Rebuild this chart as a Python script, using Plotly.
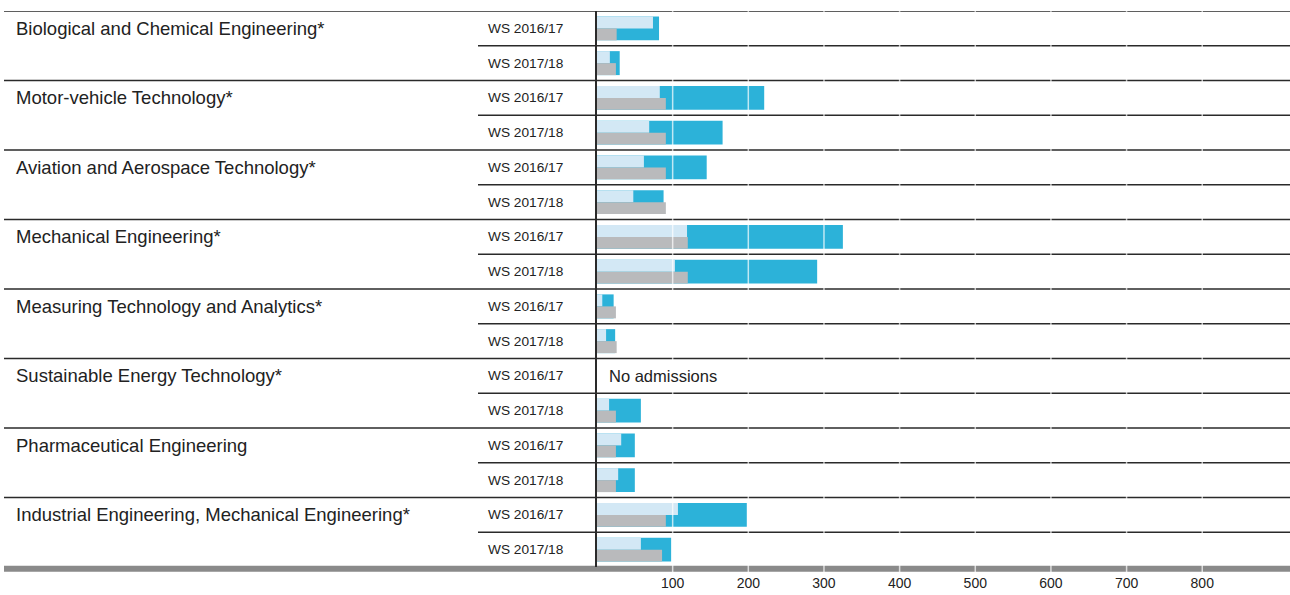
import plotly.graph_objects as go

programs = [
    "Biological and Chemical Engineering*",
    "Motor-vehicle Technology*",
    "Aviation and Aerospace Technology*",
    "Mechanical Engineering*",
    "Measuring Technology and Analytics*",
    "Sustainable Energy Technology*",
    "Pharmaceutical Engineering",
    "Industrial Engineering, Mechanical Engineering*",
]
semesters = ["WS 2016/17", "WS 2017/18"]

applications = [82, 30, 221, 166, 145, 88, 325, 291, 22, 24, None, 58, 50, 50, 198, 98]
admissions = [74, 17, 83, 69, 62, 48, 119, 103, 7, 12, None, 16, 32, 28, 107, 58]
places = [26, 25, 91, 91, 91, 91, 120, 120, 25, 26, None, 25, 25, 25, 91, 86]
no_data_text = "No admissions"
tick_values = [100, 200, 300, 400, 500, 600, 700, 800]

W, H = 1290, 595
L, T, B = 597, 11, 28
PW = W - L


def px(xp):
    return (xp - L) / PW


rows = list(range(len(applications)))
FONT = "Liberation Sans, Arial, sans-serif"
TXT = "#222222"

fig = go.Figure()
fig.add_trace(go.Bar(y=rows, x=applications, orientation="h", width=0.69, offset=-0.345,
                     marker=dict(color="#2cb2d9", line=dict(width=0)), name="Applications",
                     hoverinfo="x"))
fig.add_trace(go.Bar(y=rows, x=admissions, orientation="h", width=0.345, offset=-0.345,
                     marker=dict(color="#d3e8f5", line=dict(width=0)), name="Admissions",
                     hoverinfo="x"))
fig.add_trace(go.Bar(y=rows, x=places, orientation="h", width=0.345, offset=0,
                     marker=dict(color="#b9babc", line=dict(width=0)), name="Places",
                     hoverinfo="x"))

shapes = []
annotations = []
for k, p in enumerate(programs):
    y0 = 2 * k - 0.5
    shapes.append(dict(type="line", xref="paper", yref="y", x0=px(4), x1=1, y0=y0, y1=y0,
                       line=dict(color="#2a2a2a", width=1.5), layer="below"))
    ym = 2 * k + 0.5
    shapes.append(dict(type="line", xref="paper", yref="y", x0=px(478), x1=1, y0=ym, y1=ym,
                       line=dict(color="#2a2a2a", width=1.5), layer="below"))
    annotations.append(dict(text=p, xref="paper", yref="y", x=px(14), y=2 * k,
                            xanchor="left", yanchor="middle", showarrow=False,
                            font=dict(size=18.5, family=FONT, color=TXT)))
    for s, sem in enumerate(semesters):
        annotations.append(dict(text=sem, xref="paper", yref="y", x=px(486), y=2 * k + s,
                                xanchor="left", yanchor="middle", showarrow=False,
                                font=dict(size=13.7, family=FONT, color=TXT)))

for i, v in enumerate(applications):
    if v is None:
        annotations.append(dict(text=no_data_text, xref="paper", yref="y", x=px(607), y=i,
                                xanchor="left", yanchor="middle", showarrow=False,
                                font=dict(size=16.5, family=FONT, color=TXT)))

# bottom thick bar
shapes.append(dict(type="line", xref="paper", yref="paper", x0=px(4), x1=1,
                   y0=-0.003, y1=-0.003, line=dict(color="#8a8a8a", width=6), layer="below"))

# grid lines above bars
for t in tick_values:
    shapes.append(dict(type="line", xref="x", yref="paper", x0=t, x1=t, y0=-0.012, y1=1,
                       line=dict(color="rgba(255,255,255,0.7)", width=1.5), layer="above"))

fig.update_layout(
    width=W, height=H,
    margin=dict(l=L, r=0, t=T, b=B, pad=0),
    paper_bgcolor="white", plot_bgcolor="white",
    barmode="overlay", showlegend=False,
    shapes=shapes, annotations=annotations,
    xaxis=dict(range=[0, 916], tickvals=tick_values, showgrid=False, zeroline=False,
               showline=False, ticks="", ticklabelstandoff=6,
               tickfont=dict(size=14, family=FONT, color=TXT), fixedrange=True),
    yaxis=dict(range=[len(rows) - 0.5, -0.5], showticklabels=False, showgrid=False,
               zeroline=False, showline=True, linecolor="#2a2a2a", linewidth=1.5,
               ticks="", fixedrange=True),
)

fig.write_html("out.html",
               config={"displayModeBar": False},
               post_script="document.body.style.margin='0';document.body.style.overflow='hidden';")
